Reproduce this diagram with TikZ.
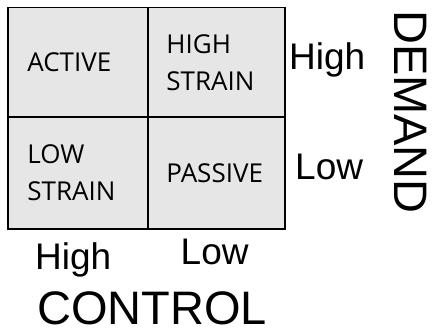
\documentclass[tikz,border=0pt]{standalone}
\usepackage{fontspec}
\setmainfont{Liberation Sans}
\newfontfamily\cellfont{Open Sans}
\definecolor{cellgray}{HTML}{E6E6E6}
\begin{document}
\begin{tikzpicture}[x=1pt,y=-1pt,
  cell/.style={draw=black, line width=1.6pt, fill=cellgray, inner sep=0pt, anchor=center},
  celltext/.style={font=\cellfont\fontsize{26}{37}\selectfont, align=left, inner sep=0pt, anchor=west},
  axislbl/.style={font=\fontsize{37}{40}\selectfont, inner sep=0pt, anchor=base west},
  axistitle/.style={font=\fontsize{47}{50}\selectfont, inner sep=0pt, anchor=base west}]
\useasboundingbox (0,0) rectangle (434,336);
% cells
\node[cell, minimum width=140pt, minimum height=109.5pt] (c11) at (78,62.25) {};
\node[cell, minimum width=137pt, minimum height=109.5pt] (c12) at (216.5,62.25) {};
\node[cell, minimum width=140pt, minimum height=112pt] (c21) at (78,173) {};
\node[cell, minimum width=137pt, minimum height=112pt] (c22) at (216.5,173) {};
% cell texts
\node[celltext] (t11) at ([xshift=20pt]c11.west) {ACTIVE};
\node[celltext] (t12) at ([xshift=19pt]c12.west) {HIGH\\STRAIN};
\node[celltext] (t21) at ([xshift=20pt]c21.west) {LOW\\STRAIN};
\node[celltext] (t22) at ([xshift=19pt]c22.west) {PASSIVE};
% demand labels
\node[axislbl] (dhigh) at (289,70) {High};
\node[axislbl] (dlow) at (295,180) {Low};
\node[axistitle, rotate=-90] (demand) at (394,10) {DEMAND};
% control labels
\node[axislbl] (chigh) at (35,270) {High};
\node[axislbl] (clow) at (180.5,265) {Low};
\node[axistitle] (control) at (37,325) {CONTROL};
\end{tikzpicture}
\end{document}
